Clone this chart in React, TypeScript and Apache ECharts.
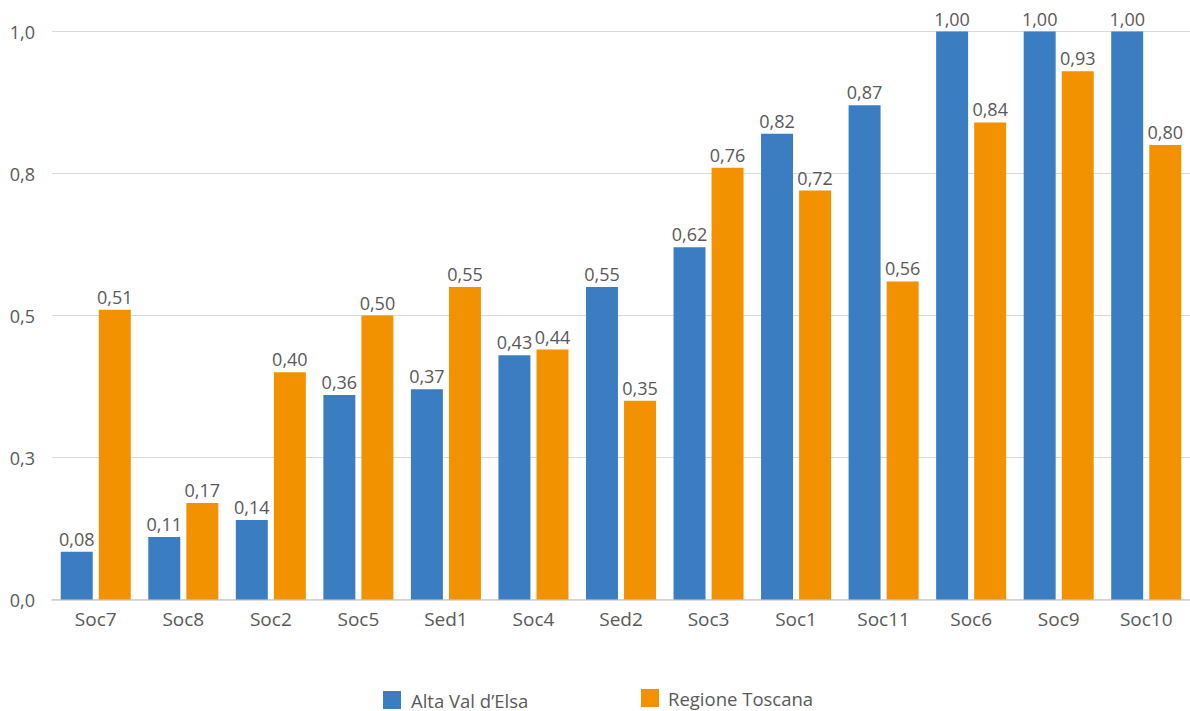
import React, { useEffect, useRef } from "react";
import * as echarts from "echarts";

const categories = ["Soc7", "Soc8", "Soc2", "Soc5", "Sed1", "Soc4", "Sed2", "Soc3", "Soc1", "Soc11", "Soc6", "Soc9", "Soc10"];
const altaValDElsa = [0.084, 0.11, 0.14, 0.36, 0.37, 0.43, 0.55, 0.62, 0.82, 0.87, 1.0, 1.0, 1.0];
const regioneToscana = [0.51, 0.17, 0.4, 0.5, 0.55, 0.44, 0.35, 0.76, 0.72, 0.56, 0.84, 0.93, 0.8];
const seriesNames = ["Alta Val d\u2019Elsa", "Regione Toscana"];

const FONT = "'Open Sans', 'Noto Sans', sans-serif";
const TEXT = "#595959";
const BLUE = "#3A7DC1";
const ORANGE = "#F39200";

const fmt2 = (v: number) => v.toFixed(2).replace(".", ",");
const fmt1 = (v: number) => v.toFixed(1).replace(".", ",");

export default function App() {
  const ref = useRef<HTMLDivElement>(null);
  useEffect(() => {
    if (!ref.current) return;
    const chart = echarts.init(ref.current, null, { renderer: "svg" });
    const label = {
      show: true,
      position: "top" as const,
      distance: 4,
      color: TEXT,
      fontFamily: FONT,
      fontSize: 18,
      formatter: (p: any) => fmt2(p.value),
    };
    chart.setOption({
      animation: false,
      backgroundColor: "#ffffff",
      grid: { left: 52, right: 0, top: 31.5, bottom: 111.5, containLabel: false },
      legend: [
        {
          data: [seriesNames[0]],
          left: 378,
          top: 685.5,
          itemWidth: 18,
          itemHeight: 18,
          icon: "rect",
          textStyle: { color: TEXT, fontFamily: FONT, fontSize: 18.5, padding: [4, 0, 0, 5] },
        },
        {
          data: [seriesNames[1]],
          left: 636,
          top: 683.5,
          itemWidth: 18,
          itemHeight: 18,
          icon: "rect",
          textStyle: { color: TEXT, fontFamily: FONT, fontSize: 18.5, padding: [0, 0, 9, 4] },
        },
      ],
      xAxis: {
        type: "category",
        data: categories,
        axisTick: { show: false },
        axisLine: { show: true, lineStyle: { color: "#D0D0D0", width: 1.5 } },
        axisLabel: { color: TEXT, fontFamily: FONT, fontSize: 19, margin: 10 },
      },
      yAxis: {
        type: "value",
        min: 0,
        max: 1,
        interval: 0.25,
        axisLine: { show: false },
        axisTick: { show: false },
        splitLine: { lineStyle: { color: "#D9D9D9", width: 1 } },
        axisLabel: { color: TEXT, fontFamily: FONT, fontSize: 18, margin: 17, formatter: (v: number) => fmt1(v) },
      },
      series: [
        {
          name: seriesNames[0],
          type: "bar",
          data: altaValDElsa,
          itemStyle: { color: BLUE },
          barGap: "19%",
          barCategoryGap: "20%",
          label,
        },
        {
          name: seriesNames[1],
          type: "bar",
          data: regioneToscana,
          itemStyle: { color: ORANGE },
          barGap: "19%",
          barCategoryGap: "20%",
          label,
        },
      ],
    });
    return () => chart.dispose();
  }, []);
  return <div ref={ref} style={{ position: "absolute", left: 0, top: 0, width: 1190, height: 711 }} />;
}
